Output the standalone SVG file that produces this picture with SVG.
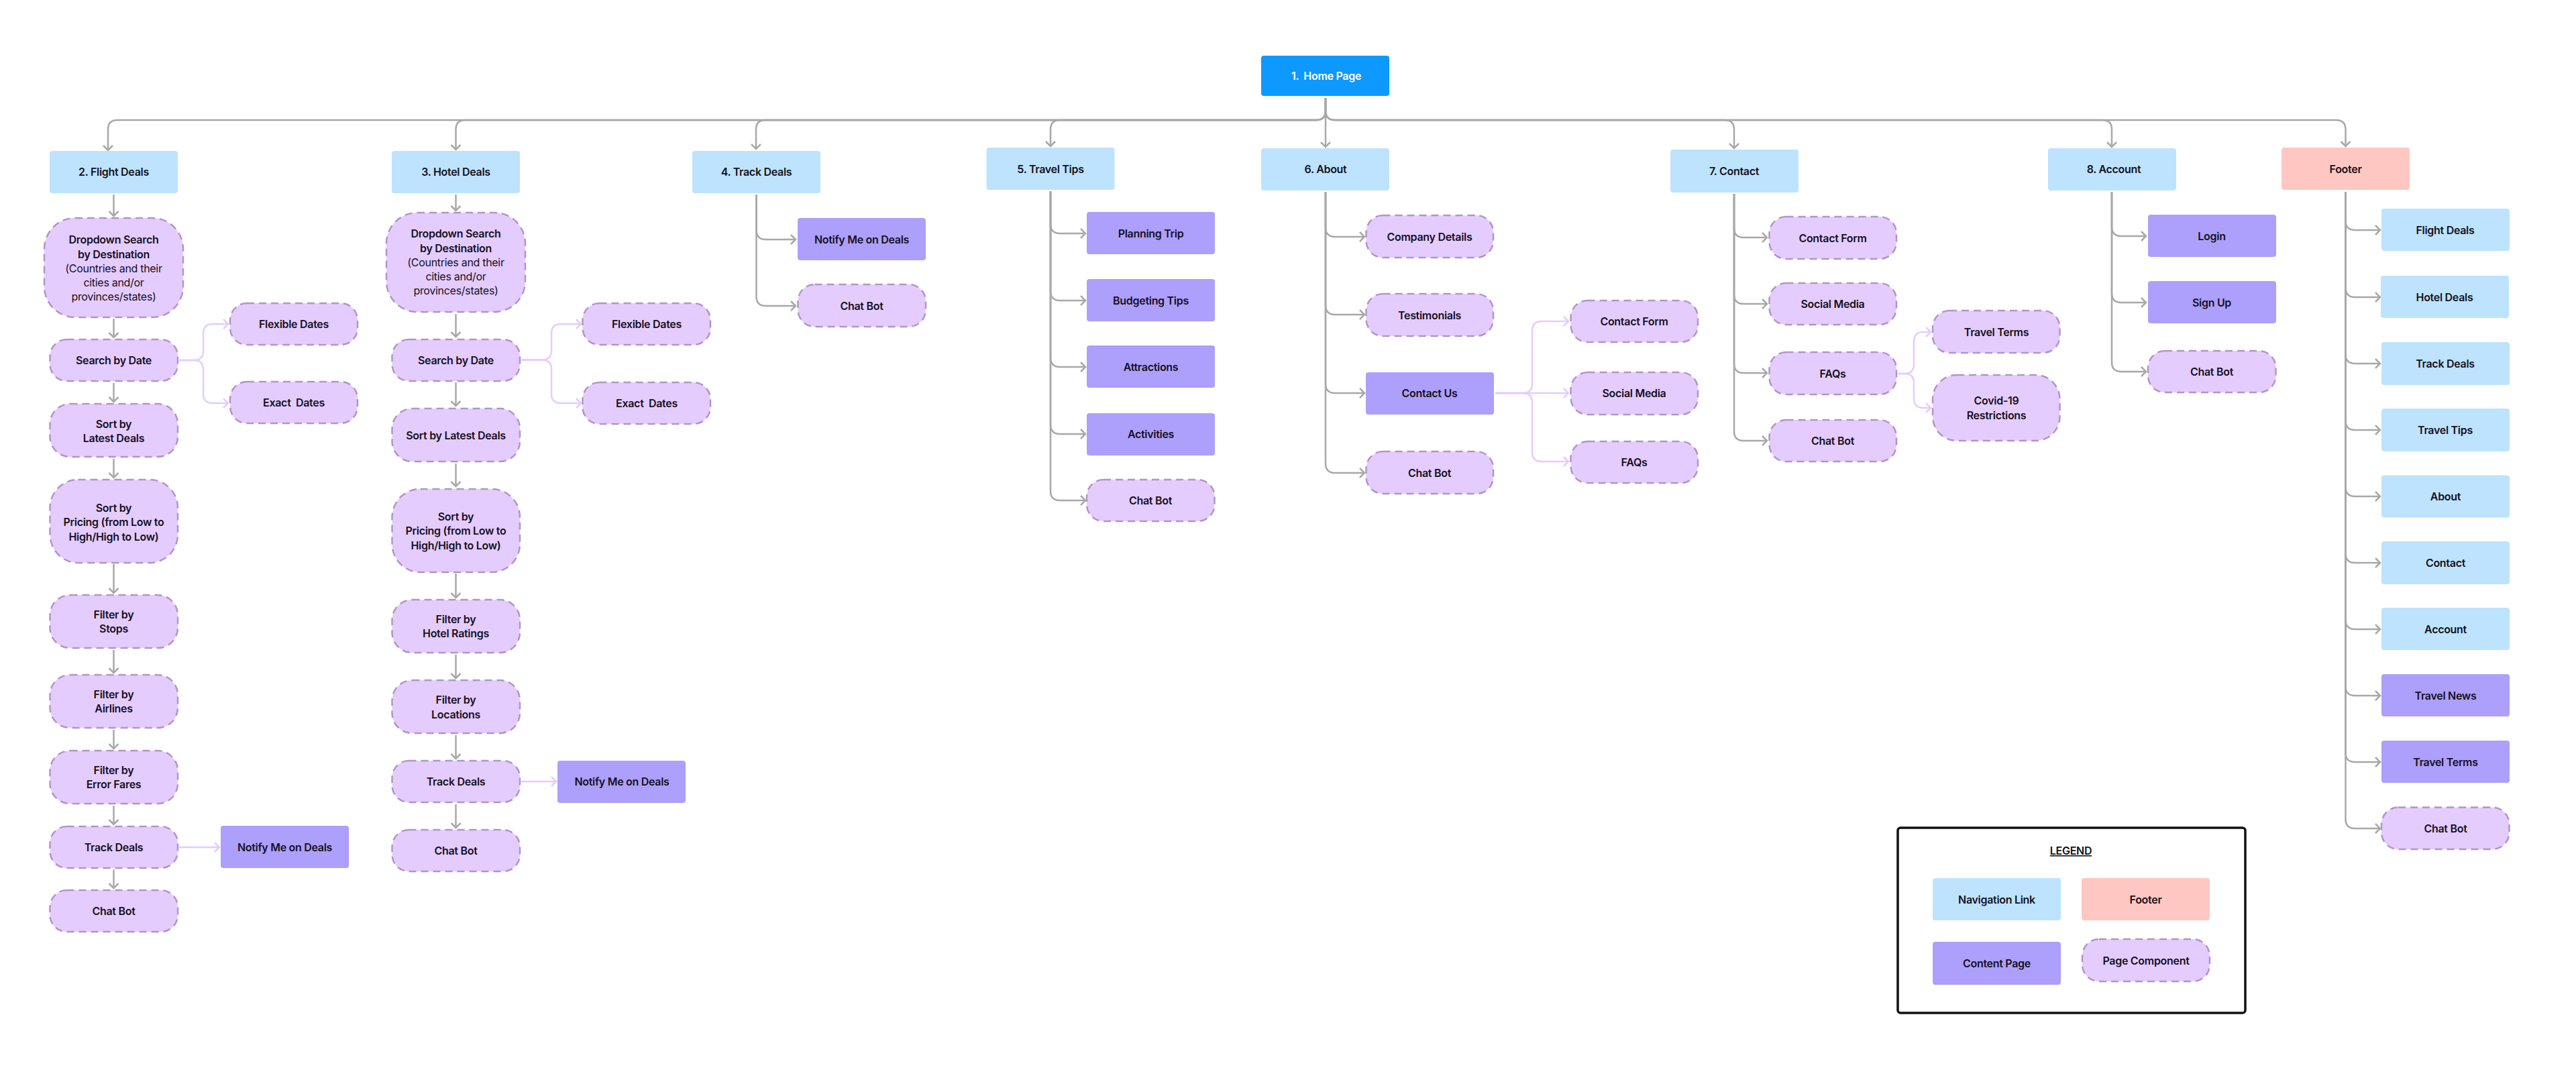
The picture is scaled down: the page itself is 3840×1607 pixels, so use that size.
<svg xmlns="http://www.w3.org/2000/svg" width="3840" height="1607" viewBox="0 0 3840 1607">
<style>
text{font-family:Inter,"Noto Sans","Liberation Sans",sans-serif;font-size:16px;letter-spacing:-0.3px;font-weight:600;fill:#14101c;text-anchor:middle;white-space:pre}
.thin{font-weight:400}
.home{fill:#0d99ff}.nav{fill:#bde3ff}.page{fill:#ad9ffc}.foot{fill:#ffc7c2}
.comp{fill:#e4ccff;stroke:#b096c8;stroke-width:2.5;stroke-dasharray:11 7}
.g{fill:none;stroke:#a8a8a8;stroke-width:2.5;marker-end:url(#ag)}
.p{fill:none;stroke:#e4ccff;stroke-width:2.5;marker-end:url(#ap)}
</style>
<defs>
<marker id="ag" markerUnits="userSpaceOnUse" markerWidth="20" markerHeight="20" refX="10" refY="10" orient="auto"><path d="M3 3L10 10L3 17" fill="none" stroke="#a8a8a8" stroke-width="2.5"/></marker>
<marker id="ap" markerUnits="userSpaceOnUse" markerWidth="20" markerHeight="20" refX="10" refY="10" orient="auto"><path d="M3 3L10 10L3 17" fill="none" stroke="#e4ccff" stroke-width="2.5"/></marker>
</defs>
<rect width="3840" height="1607" fill="#fff"/>
<g id="connectors">
<path class="g" d="M1976 146V219"/>
<path class="g" d="M1976 146V165Q1976 179 1962 179H175Q161 179 161 193V224"/>
<path class="g" d="M1976 146V165Q1976 179 1962 179H693.500Q679.500 179 679.500 193V223"/>
<path class="g" d="M1976 146V165Q1976 179 1962 179H1141Q1127 179 1127 193V222"/>
<path class="g" d="M1976 146V165Q1976 179 1962 179H1580Q1566 179 1566 193V218"/>
<path class="g" d="M1976 146V165Q1976 179 1990 179H2571Q2585 179 2585 193V221"/>
<path class="g" d="M1976 146V165Q1976 179 1990 179H3134Q3148 179 3148 193V219"/>
<path class="g" d="M1976 146V165Q1976 179 1990 179H3482.500Q3496.500 179 3496.500 193V218"/>
<path class="g" d="M169.500 290V322"/><path class="g" d="M169.500 475V503"/><path class="g" d="M169.500 571V599"/><path class="g" d="M169.500 684V712"/><path class="g" d="M169.500 841V884"/><path class="g" d="M169.500 969V1003"/><path class="g" d="M169.500 1088V1116"/><path class="g" d="M169.500 1201V1229"/><path class="g" d="M169.500 1296V1324"/>
<path class="p" d="M267 1263H327"/>
<path class="p" d="M267 537H289Q303 537 303 523V497Q303 483 317 483H340"/>
<path class="p" d="M267 537H289Q303 537 303 551V587Q303 601 317 601H340"/>
<path class="g" d="M679.500 290V314"/><path class="g" d="M679.500 468V502"/><path class="g" d="M679.500 570V605"/><path class="g" d="M679.500 691V725"/><path class="g" d="M679.500 855V891"/><path class="g" d="M679.500 976V1011"/><path class="g" d="M679.500 1096V1131"/><path class="g" d="M679.500 1199V1234"/>
<path class="p" d="M777 1165H829"/>
<path class="p" d="M777 536.500H808Q822 536.500 822 522.500V497Q822 483 836 483H866"/>
<path class="p" d="M777 536.500H808Q822 536.500 822 550.500V587Q822 601 836 601H866"/>
<path class="g" d="M1127.500 290V343Q1127.500 357 1141.500 357H1186"/>
<path class="g" d="M1127.500 290V442Q1127.500 456 1141.500 456H1186"/>
<path class="g" d="M1566 285V334Q1566 348 1580 348H1618"/>
<path class="g" d="M1566 285V434Q1566 448 1580 448H1618"/>
<path class="g" d="M1566 285V533Q1566 547 1580 547H1618"/>
<path class="g" d="M1566 285V633Q1566 647 1580 647H1618"/>
<path class="g" d="M1566 285V732Q1566 746 1580 746H1618"/>
<path class="g" d="M1976 286V339Q1976 353 1990 353H2034"/>
<path class="g" d="M1976 286V455Q1976 469 1990 469H2034"/>
<path class="g" d="M1976 286V572Q1976 586 1990 586H2034"/>
<path class="g" d="M1976 286V691Q1976 705 1990 705H2034"/>
<path class="p" d="M2229 586H2338"/>
<path class="p" d="M2229 586H2270Q2284 586 2284 572V493Q2284 479 2298 479H2338"/>
<path class="p" d="M2229 586H2270Q2284 586 2284 600V674Q2284 688 2298 688H2338"/>
<path class="g" d="M2585 289V340Q2585 354 2599 354H2634"/>
<path class="g" d="M2585 289V439Q2585 453 2599 453H2634"/>
<path class="g" d="M2585 289V542Q2585 556 2599 556H2634"/>
<path class="g" d="M2585 289V643Q2585 657 2599 657H2634"/>
<path class="p" d="M2829 557H2839Q2853 557 2853 543V509Q2853 495 2867 495H2878"/>
<path class="p" d="M2829 557H2839Q2853 557 2853 571V594Q2853 608 2867 608H2878"/>
<path class="g" d="M3148 286V338Q3148 352 3162 352H3199"/>
<path class="g" d="M3148 286V437Q3148 451 3162 451H3199"/>
<path class="g" d="M3148 286V540Q3148 554 3162 554H3199"/>
<path class="g" d="M3496.500 286V329Q3496.500 343 3510.500 343H3548"/>
<path class="g" d="M3496.500 286V429Q3496.500 443 3510.500 443H3548"/>
<path class="g" d="M3496.500 286V528Q3496.500 542 3510.500 542H3548"/>
<path class="g" d="M3496.500 286V627Q3496.500 641 3510.500 641H3548"/>
<path class="g" d="M3496.500 286V726Q3496.500 740 3510.500 740H3548"/>
<path class="g" d="M3496.500 286V825Q3496.500 839 3510.500 839H3548"/>
<path class="g" d="M3496.500 286V924Q3496.500 938 3510.500 938H3548"/>
<path class="g" d="M3496.500 286V1023Q3496.500 1037 3510.500 1037H3548"/>
<path class="g" d="M3496.500 286V1122Q3496.500 1136 3510.500 1136H3548"/>
<path class="g" d="M3496.500 286V1221Q3496.500 1235 3510.500 1235H3548"/>
</g>
<g id="n1"><rect class="home" x="1880" y="83" width="191" height="60" rx="4"/><text x="1977" y="119" style="fill:#fff">1.  Home Page</text></g>
<g id="n2"><rect class="nav" x="74" y="225" width="191" height="63" rx="4"/><text x="169.500" y="262">2. Flight Deals</text></g>
<g id="n2a"><rect class="comp" x="66" y="325" width="207" height="148" rx="46"/><text x="169.500" y="363">Dropdown Search</text><text x="169.500" y="385">by Destination</text><text class="thin" x="169.500" y="406">(Countries and their</text><text class="thin" x="169.500" y="427">cities and/or</text><text class="thin" x="169.500" y="448">provinces/states)</text></g>
<g id="n2b"><rect class="comp" x="74.500" y="506" width="190.500" height="62" rx="25"/><text x="169.500" y="543">Search by Date</text></g>
<g id="n2c"><rect class="comp" x="74.500" y="602" width="190.500" height="79" rx="30"/><text x="169.500" y="637.500">Sort by</text><text x="169.500" y="659">Latest Deals</text></g>
<g id="n2d"><rect class="comp" x="74.500" y="715" width="190.500" height="124" rx="42"/><text x="169.500" y="763">Sort by</text><text x="169.500" y="784">Pricing (from Low to</text><text x="169.500" y="805.500">High/High to Low)</text></g>
<g id="n2e"><rect class="comp" x="74.500" y="887" width="190.500" height="79" rx="30"/><text x="169.500" y="922">Filter by</text><text x="169.500" y="943">Stops</text></g>
<g id="n2f"><rect class="comp" x="74.500" y="1006" width="190.500" height="79" rx="30"/><text x="169.500" y="1041">Filter by</text><text x="169.500" y="1062">Airlines</text></g>
<g id="n2g"><rect class="comp" x="74.500" y="1119" width="190.500" height="79" rx="30"/><text x="169.500" y="1154">Filter by</text><text x="169.500" y="1175">Error Fares</text></g>
<g id="n2h"><rect class="comp" x="74.500" y="1232" width="190.500" height="62" rx="25"/><text x="169.500" y="1269">Track Deals</text></g>
<g id="n2i"><rect class="comp" x="74.500" y="1327" width="190.500" height="62" rx="25"/><text x="169.500" y="1364">Chat Bot</text></g>
<g id="n2j"><rect class="comp" x="343" y="452" width="190" height="62" rx="25"/><text x="438" y="489">Flexible Dates</text></g>
<g id="n2k"><rect class="comp" x="343" y="569" width="190" height="62" rx="25"/><text x="438" y="606">Exact  Dates</text></g>
<g id="n2l"><rect class="page" x="329" y="1231" width="191" height="63" rx="4"/><text x="424.500" y="1269">Notify Me on Deals</text></g>
<g id="n3"><rect class="nav" x="584" y="225" width="191" height="63" rx="4"/><text x="679.500" y="262">3. Hotel Deals</text></g>
<g id="n3a"><rect class="comp" x="576" y="317" width="207" height="148" rx="46"/><text x="679.500" y="354">Dropdown Search</text><text x="679.500" y="376">by Destination</text><text class="thin" x="679.500" y="397">(Countries and their</text><text class="thin" x="679.500" y="418">cities and/or</text><text class="thin" x="679.500" y="439">provinces/states)</text></g>
<g id="n3b"><rect class="comp" x="584.500" y="506" width="190.500" height="62" rx="25"/><text x="679.500" y="543">Search by Date</text></g>
<g id="n3c"><rect class="comp" x="584.500" y="609" width="190.500" height="79" rx="30"/><text x="679.500" y="655">Sort by Latest Deals</text></g>
<g id="n3d"><rect class="comp" x="584.500" y="729" width="190.500" height="124" rx="42"/><text x="679.500" y="776">Sort by</text><text x="679.500" y="797">Pricing (from Low to</text><text x="679.500" y="818.500">High/High to Low)</text></g>
<g id="n3e"><rect class="comp" x="584.500" y="894" width="190.500" height="79" rx="30"/><text x="679.500" y="929">Filter by</text><text x="679.500" y="950">Hotel Ratings</text></g>
<g id="n3f"><rect class="comp" x="584.500" y="1014" width="190.500" height="79" rx="30"/><text x="679.500" y="1049">Filter by</text><text x="679.500" y="1070.500">Locations</text></g>
<g id="n3g"><rect class="comp" x="584.500" y="1134" width="190.500" height="62" rx="25"/><text x="679.500" y="1171">Track Deals</text></g>
<g id="n3h"><rect class="comp" x="584.500" y="1237" width="190.500" height="62" rx="25"/><text x="679.500" y="1274">Chat Bot</text></g>
<g id="n3i"><rect class="comp" x="868.500" y="452" width="190.500" height="62" rx="25"/><text x="964" y="489">Flexible Dates</text></g>
<g id="n3j"><rect class="comp" x="868.500" y="570" width="190.500" height="62" rx="25"/><text x="964" y="607">Exact  Dates</text></g>
<g id="n3k"><rect class="page" x="831" y="1134" width="191" height="63" rx="4"/><text x="927" y="1171">Notify Me on Deals</text></g>
<g id="n4"><rect class="nav" x="1032" y="225" width="191" height="63" rx="4"/><text x="1127.500" y="262">4. Track Deals</text></g>
<g id="n4a"><rect class="page" x="1189" y="325" width="191" height="63" rx="4"/><text x="1284.500" y="363">Notify Me on Deals</text></g>
<g id="n4b"><rect class="comp" x="1189.500" y="424" width="190.500" height="63" rx="25"/><text x="1284.500" y="462">Chat Bot</text></g>
<g id="n5"><rect class="nav" x="1470.500" y="220" width="191" height="63" rx="4"/><text x="1566" y="258">5. Travel Tips</text></g>
<g id="n5a"><rect class="page" x="1620" y="316" width="191" height="63" rx="4"/><text x="1715.500" y="354">Planning Trip</text></g>
<g id="n5b"><rect class="page" x="1620" y="416" width="191" height="63" rx="4"/><text x="1715.500" y="454">Budgeting Tips</text></g>
<g id="n5c"><rect class="page" x="1620" y="515" width="191" height="63" rx="4"/><text x="1715.500" y="553">Attractions</text></g>
<g id="n5d"><rect class="page" x="1620" y="616" width="191" height="63" rx="4"/><text x="1715.500" y="653">Activities</text></g>
<g id="n5e"><rect class="comp" x="1620" y="715" width="190.500" height="62" rx="25"/><text x="1715" y="752">Chat Bot</text></g>
<g id="n6"><rect class="nav" x="1880" y="221" width="191" height="63" rx="4"/><text x="1976" y="258">6. About</text></g>
<g id="n6a"><rect class="comp" x="2036.500" y="321" width="189.500" height="63" rx="25"/><text x="2131" y="359">Company Details</text></g>
<g id="n6b"><rect class="comp" x="2036.500" y="438" width="189.500" height="63" rx="25"/><text x="2131" y="476">Testimonials</text></g>
<g id="n6c"><rect class="page" x="2036" y="555" width="191" height="63" rx="4"/><text x="2131" y="592">Contact Us</text></g>
<g id="n6d"><rect class="comp" x="2036.500" y="673" width="189.500" height="63" rx="25"/><text x="2131" y="711">Chat Bot</text></g>
<g id="n6e"><rect class="comp" x="2341.500" y="448" width="189.500" height="62" rx="25"/><text x="2436" y="485">Contact Form</text></g>
<g id="n6f"><rect class="comp" x="2341.500" y="555" width="189.500" height="63" rx="25"/><text x="2436" y="592">Social Media</text></g>
<g id="n6g"><rect class="comp" x="2341.500" y="658" width="189.500" height="62" rx="25"/><text x="2436" y="695">FAQs</text></g>
<g id="n7"><rect class="nav" x="2490" y="223" width="191" height="64" rx="4"/><text x="2585" y="261">7. Contact</text></g>
<g id="n7a"><rect class="comp" x="2637.500" y="323" width="189.500" height="63" rx="25"/><text x="2732" y="361">Contact Form</text></g>
<g id="n7b"><rect class="comp" x="2637.500" y="422" width="189.500" height="62" rx="25"/><text x="2732" y="459">Social Media</text></g>
<g id="n7c"><rect class="comp" x="2637.500" y="525" width="189.500" height="63" rx="25"/><text x="2732" y="563">FAQs</text></g>
<g id="n7d"><rect class="comp" x="2637.500" y="626" width="189.500" height="62" rx="25"/><text x="2732" y="663">Chat Bot</text></g>
<g id="n7e"><rect class="comp" x="2881" y="463" width="189.500" height="63" rx="25"/><text x="2976" y="501">Travel Terms</text></g>
<g id="n7f"><rect class="comp" x="2881" y="559" width="189.500" height="98" rx="36"/><text x="2976" y="603">Covid-19</text><text x="2976" y="624.500">Restrictions</text></g>
<g id="n8"><rect class="nav" x="3053" y="221" width="191" height="63" rx="4"/><text x="3151" y="258">8. Account</text></g>
<g id="n8a"><rect class="page" x="3202" y="320" width="191" height="63" rx="4"/><text x="3297" y="358">Login</text></g>
<g id="n8b"><rect class="page" x="3202" y="419" width="191" height="63" rx="4"/><text x="3297" y="457">Sign Up</text></g>
<g id="n8c"><rect class="comp" x="3202" y="523" width="190.500" height="62" rx="25"/><text x="3297" y="560">Chat Bot</text></g>
<g id="n9"><rect class="foot" x="3401" y="220" width="191" height="63" rx="4"/><text x="3496.500" y="258">Footer</text></g>
<g id="n9a"><rect class="nav" x="3550" y="311" width="191" height="63" rx="4"/><text x="3645" y="349">Flight Deals</text></g>
<g id="n9b"><rect class="nav" x="3549" y="411" width="191" height="63" rx="4"/><text x="3644" y="449">Hotel Deals</text></g>
<g id="n9c"><rect class="nav" x="3550" y="510" width="191" height="64" rx="4"/><text x="3645" y="548">Track Deals</text></g>
<g id="n9d"><rect class="nav" x="3550" y="609" width="191" height="64" rx="4"/><text x="3645" y="647">Travel Tips</text></g>
<g id="n9e"><rect class="nav" x="3550" y="708.500" width="191" height="63" rx="4"/><text x="3645.500" y="746">About</text></g>
<g id="n9f"><rect class="nav" x="3550" y="807" width="191" height="64" rx="4"/><text x="3645.500" y="845">Contact</text></g>
<g id="n9g"><rect class="nav" x="3550" y="906" width="191" height="63" rx="4"/><text x="3645.500" y="944">Account</text></g>
<g id="n9h"><rect class="page" x="3550" y="1005" width="191" height="63" rx="4"/><text x="3645.500" y="1043">Travel News</text></g>
<g id="n9i"><rect class="page" x="3550" y="1104" width="191" height="63" rx="4"/><text x="3645.500" y="1142">Travel Terms</text></g>
<g id="n9j"><rect class="comp" x="3550" y="1203.500" width="190.500" height="62.500" rx="25"/><text x="3645.500" y="1241">Chat Bot</text></g>
<g id="legend"><rect x="2829" y="1234" width="518" height="276" rx="4" fill="#fff" stroke="#111" stroke-width="3.500"/><text x="3087" y="1274" text-decoration="underline">LEGEND</text>
<rect class="nav" x="2881" y="1309" width="191" height="63" rx="4"/><text x="2976.500" y="1347">Navigation Link</text>
<rect class="foot" x="3103" y="1309" width="191" height="63" rx="4"/><text x="3198.500" y="1347">Footer</text>
<rect class="page" x="2881" y="1404" width="191" height="64" rx="4"/><text x="2976.500" y="1442">Content Page</text>
<rect class="comp" x="3104" y="1400" width="190" height="63" rx="25"/><text x="3199" y="1438">Page Component</text></g>
</svg>
